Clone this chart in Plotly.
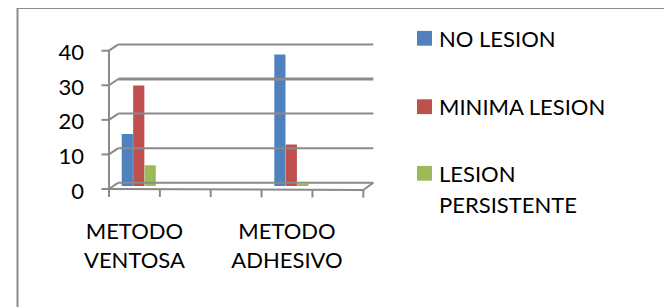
import plotly.graph_objects as go

# ---- data ----
categories = ["METODO VENTOSA", "", "", "METODO ADHESIVO", ""]
series_names = ["NO LESION", "MINIMA LESION", "LESION PERSISTENTE"]
legend_labels = ["NO LESION", "MINIMA LESION", "LESION<br>PERSISTENTE"]
no_lesion = [15, None, None, 38, None]
minima_lesion = [29, None, None, 12, None]
lesion_persistente = [6, None, None, 0.5, None]
y_ticks = [0, 10, 20, 30, 40]

colors = ["#4F81BD", "#C0504D", "#9BBB59"]
grid_color = "#8A8A8A"
FONT = "Lato, 'Open Sans', sans-serif"

# the page body has an 8px margin; the figure is sized to fill the rest of the window
OFF = 8
W, H = 672 - OFF, 307 - OFF


def px(x):
    return (x - OFF) / W


def py(y):
    return 1 - (y - OFF) / H


# plot-area geometry in window pixels
X0, X1 = 109.0, 373.3
Y0, Y1 = 40.0, 190.0
CAT_W = 50.86
ZERO_Y, FORTY_Y = 186.0, 47.5
scale = (ZERO_Y - FORTY_Y) / 40.0

fig = go.Figure()
series = [no_lesion, minima_lesion, lesion_persistente]
offsets = [-0.25, -0.025, 0.20]
xs = list(range(len(categories)))
for name, vals, col, off in zip(series_names, series, colors, offsets):
    fig.add_trace(go.Bar(
        x=xs, y=vals, name=name, marker=dict(color=col, line=dict(width=0)),
        width=0.22, offset=off, showlegend=False,
    ))

shapes = []
line = dict(color=grid_color, width=2)
DX, DY = 9.3, -6.3


def front_y(v):
    return 189.0 - v * (189.0 - 50.7) / 40.0


# y axis line and left ticks
shapes.append(dict(type="line", xref="paper", yref="paper",
                   x0=px(X0), x1=px(X0), y0=py(front_y(40)), y1=py(196.7), line=line))
for v in y_ticks:
    fy = front_y(v)
    shapes.append(dict(type="line", xref="paper", yref="paper",
                       x0=px(101.5), x1=px(X0), y0=py(fy), y1=py(fy), line=line))
    shapes.append(dict(type="line", xref="paper", yref="paper",
                       x0=px(X0), x1=px(X0 + DX), y0=py(fy), y1=py(fy + DY), line=line))
    w = 3 if v == 30 else 2
    shapes.append(dict(type="line", xref="paper", yref="paper",
                       x0=px(X0 + DX), x1=px(X1), y0=py(fy + DY), y1=py(fy + DY),
                       line=dict(color=grid_color, width=w)))

# floor front edge and right diagonal
floor_right = X0 + CAT_W * len(categories)
shapes.append(dict(type="line", xref="paper", yref="paper",
                   x0=px(X0), x1=px(floor_right), y0=py(189.0), y1=py(190.0), line=line))
shapes.append(dict(type="line", xref="paper", yref="paper",
                   x0=px(floor_right), x1=px(X1), y0=py(190.0), y1=py(182.7), line=line))
# category tick marks
for i in range(len(categories) + 1):
    tx = X0 + i * CAT_W
    ty = 189.0 + i * 0.2
    shapes.append(dict(type="line", xref="paper", yref="paper",
                       x0=px(tx), x1=px(tx), y0=py(ty), y1=py(ty + 7.7), line=line))

# outer chart border
shapes.append(dict(type="rect", xref="paper", yref="paper",
                   x0=px(17.5), x1=px(670.5), y0=py(8), y1=py(330),
                   line=dict(color="#8C8C8C", width=2), fillcolor="rgba(0,0,0,0)", layer="below"))

# manual legend
annotations = []
leg_centers = [38.3, 106.7, 173.3]
for lab, col, cy in zip(legend_labels, colors, leg_centers):
    shapes.append(dict(type="rect", xref="paper", yref="paper",
                       x0=px(417), x1=px(432), y0=py(cy - 7.4), y1=py(cy + 7.4),
                       line=dict(width=0), fillcolor=col))
    for j, part in enumerate(lab.split("<br>")):
        annotations.append(dict(text=part, xref="paper", yref="paper",
                                x=px(436.5), y=py(cy + j * 31.0), xanchor="left", yanchor="middle",
                                showarrow=False, font=dict(family=FONT, size=22, color="#000000")))

fig.update_layout(
    width=W, height=H, autosize=False,
    margin=dict(l=0, r=0, t=0, b=0, pad=0, autoexpand=False),
    paper_bgcolor="white", plot_bgcolor="rgba(0,0,0,0)",
    barmode="overlay", showlegend=False,
    font=dict(family=FONT, size=22, color="#000000"),
    shapes=shapes, annotations=annotations,
    xaxis=dict(
        domain=[px(X0), px(X1)], automargin=False,
        range=[-0.5, len(categories) - 0.5 + (X1 - floor_right) / CAT_W],
        tickvals=[i for i, c in enumerate(categories) if c],
        ticktext=[c.replace(" ", "<br>") for c in categories if c],
        showgrid=False, zeroline=False, showline=False, ticks="",
        ticklabelstandoff=26,
        tickfont=dict(family=FONT, size=22, color="#000000"),
    ),
    yaxis=dict(
        domain=[py(Y1), py(Y0)], automargin=False,
        range=[-(Y1 - ZERO_Y) / scale, 40 + (FORTY_Y - Y0) / scale],
        tickvals=y_ticks,
        showgrid=False, zeroline=False, showline=False, ticks="",
        ticklabelstandoff=24, ticklabelshift=5,
        tickfont=dict(family=FONT, size=22, color="#000000"),
    ),
)

fig.write_html("out.html")
